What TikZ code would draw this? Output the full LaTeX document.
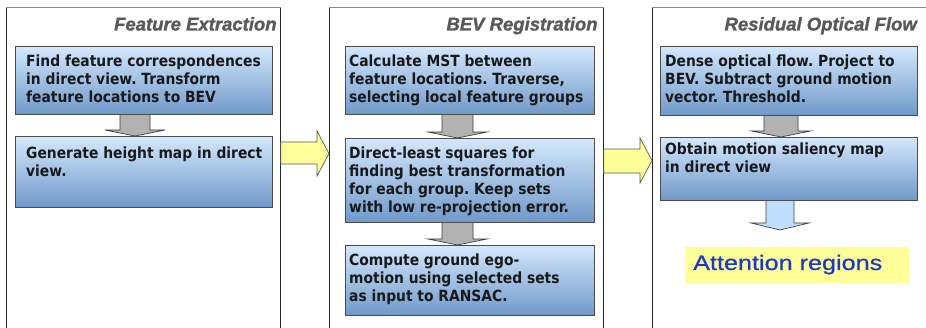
\documentclass[tikz,border=0pt]{standalone}
\usepackage{fontspec}
\setmainfont{DejaVu Sans}
\newfontfamily\boxfont{DejaVu Sans}[FakeStretch=0.9]
\newfontfamily\ttlfont{Liberation Sans Bold Italic}[FakeBold=1.2]
\newfontfamily\attfont{Liberation Sans}[FakeStretch=1.2,FakeBold=0.6]
\usetikzlibrary{calc}
\pgfdeclarelayer{back}
\pgfdeclarelayer{mid}
\pgfsetlayers{back,mid,main}
\definecolor{boxtop}{HTML}{D3E8FD}
\definecolor{boxbot}{HTML}{7099CA}
\definecolor{yelarr}{HTML}{FFFF99}
\definecolor{blarr}{HTML}{BFDDFC}
\definecolor{attfill}{HTML}{FFFF99}
\definecolor{attblue}{HTML}{1A38D0}
\frenchspacing
\newcommand\downarr[7]{%
  \draw[#1] ($(#4,0 |- #2.south)+(-#5,-2)$) -- ($(#4,0 |- #3)+(-#5,-#7)$) -- ($(#4,0 |- #3)+(-#6,-#7)$) -- (#4,0 |- #3) -- ($(#4,0 |- #3)+(#6,-#7)$) -- ($(#4,0 |- #3)+(#5,-#7)$) -- ($(#4,0 |- #2.south)+(#5,-2)$) -- cycle;}
\begin{document}
\begin{tikzpicture}[x=1pt,y=-1pt,
  panel/.style={draw=black!85, fill=white, line width=0.8pt, inner sep=0, anchor=north west, minimum height=322},
  bbox/.style={draw=black!70, line width=0.7pt, top color=boxtop, bottom color=boxbot, inner sep=0, anchor=north west},
  btxt/.style={font=\boxfont\bfseries\fontsize{15.4}{18}\selectfont, align=left, inner sep=0, anchor=north west, text=black!90},
  ttl/.style={font=\ttlfont\fontsize{18.5}{20}\selectfont, text=black!65, inner sep=0, anchor=base east},
  atxt/.style={font=\attfont\fontsize{21}{24}\selectfont, text=attblue, inner sep=0, anchor=base west},
  garrow/.style={draw=black!75, fill=black!30, line width=0.7pt},
  yarrow/.style={draw=black!65, fill=yelarr, line width=0.7pt},
  barrow/.style={draw=black!75, fill=blarr, line width=0.7pt}]
\useasboundingbox (0,0) rectangle (926,328);

\begin{pgfonlayer}{back}
\fill[white] (0,0) rectangle (926,328);
\node[panel, minimum width=274] (p1) at (6,7) {};
\node[panel, minimum width=274] (p2) at (329,7) {};
\node[panel, minimum width=275] (p3) at (652,7) {};
\draw[black!45, line width=0.8pt] (p1.north west) -- (p1.north east);
\draw[black!45, line width=0.8pt] (p2.north west) -- (p2.north east);
\draw[black!45, line width=0.8pt] (p3.north west) -- (p3.north east);
\end{pgfonlayer}

% titles
\node[ttl] (t1) at ($(p1.north east)+(-4,23.5)$) {Feature Extraction};
\node[ttl] (t2) at ($(p2.north east)+(-6,23.5)$) {BEV Registration};
\node[ttl] (t3) at ($(p3.north west)+(265,23.5)$) {Residual Optical Flow};

% boxes
\node[bbox, minimum width=257, minimum height=68] (b11) at (15,46) {};
\node[bbox, minimum width=257, minimum height=71] (b12) at (15,136) {};
\node[bbox, minimum width=249, minimum height=68] (b21) at (345,46) {};
\node[bbox, minimum width=249, minimum height=84] (b22) at (345,138) {};
\node[bbox, minimum width=249, minimum height=70] (b23) at (345,245) {};
\node[bbox, minimum width=257, minimum height=69] (b31) at (660,46) {};
\node[bbox, minimum width=257, minimum height=63] (b32) at (660,137) {};

% box texts
\node[btxt] (x11) at (26,55) {Find feature correspondences\\in direct view. Transform\\feature locations to BEV};
\node[btxt] (x12) at (26,146.5) {Generate height map in direct\\view.};
\node[btxt] (x21) at (349,55) {Calculate MST between\\feature locations. Traverse,\\selecting local feature groups};
\node[btxt] (x22) at (349,146.5) {Direct-least squares for\\finding best transformation\\for each group. Keep sets\\with low re-projection error.};
\node[btxt] (x23) at (349,253.5) {Compute ground ego-\\motion using selected sets\\as input to RANSAC.};
\node[btxt] (x31) at (665,55) {Dense optical flow. Project to\\BEV. Subtract ground motion\\vector. Threshold.};
\node[btxt] (x32) at (665,142.5) {Obtain motion saliency map\\in direct view};

% attention regions
\node[fill=attfill, inner sep=0, anchor=north west, minimum width=224, minimum height=36] (att) at (685,247) {};
\node[atxt] (attt) at (693,270) {Attention regions};
\coordinate (btip) at (780,230);

\begin{pgfonlayer}{mid}
\downarr{garrow}{b11}{b12.north}{135}{15}{30}{6}
\downarr{garrow}{b21}{b22.north}{457.5}{15.5}{29.5}{6}
\downarr{garrow}{b22}{b23.north}{457.5}{15.5}{29.5}{6}
\downarr{garrow}{b31}{b32.north}{781}{17}{29.5}{6}
\downarr{barrow}{b32}{btip}{780}{14}{29}{7}
\draw[yarrow] ($(p1.north east)+(0,135)$) -- ($(p2.north west)+(-12,135)$) -- ($(p2.north west)+(-12,124)$) -- ($(p2.north west)+(0,146.5)$) -- ($(p2.north west)+(-12,169)$) -- ($(p2.north west)+(-12,157)$) -- ($(p1.north east)+(0,157)$) -- cycle;
\draw[yarrow] ($(p2.north east)+(0,142)$) -- ($(p3.north west)+(-12,142)$) -- ($(p3.north west)+(-12,131)$) -- ($(p3.north west)+(0,153.5)$) -- ($(p3.north west)+(-12,176)$) -- ($(p3.north west)+(-12,166)$) -- ($(p2.north east)+(0,166)$) -- cycle;
\end{pgfonlayer}
\end{tikzpicture}
\end{document}
